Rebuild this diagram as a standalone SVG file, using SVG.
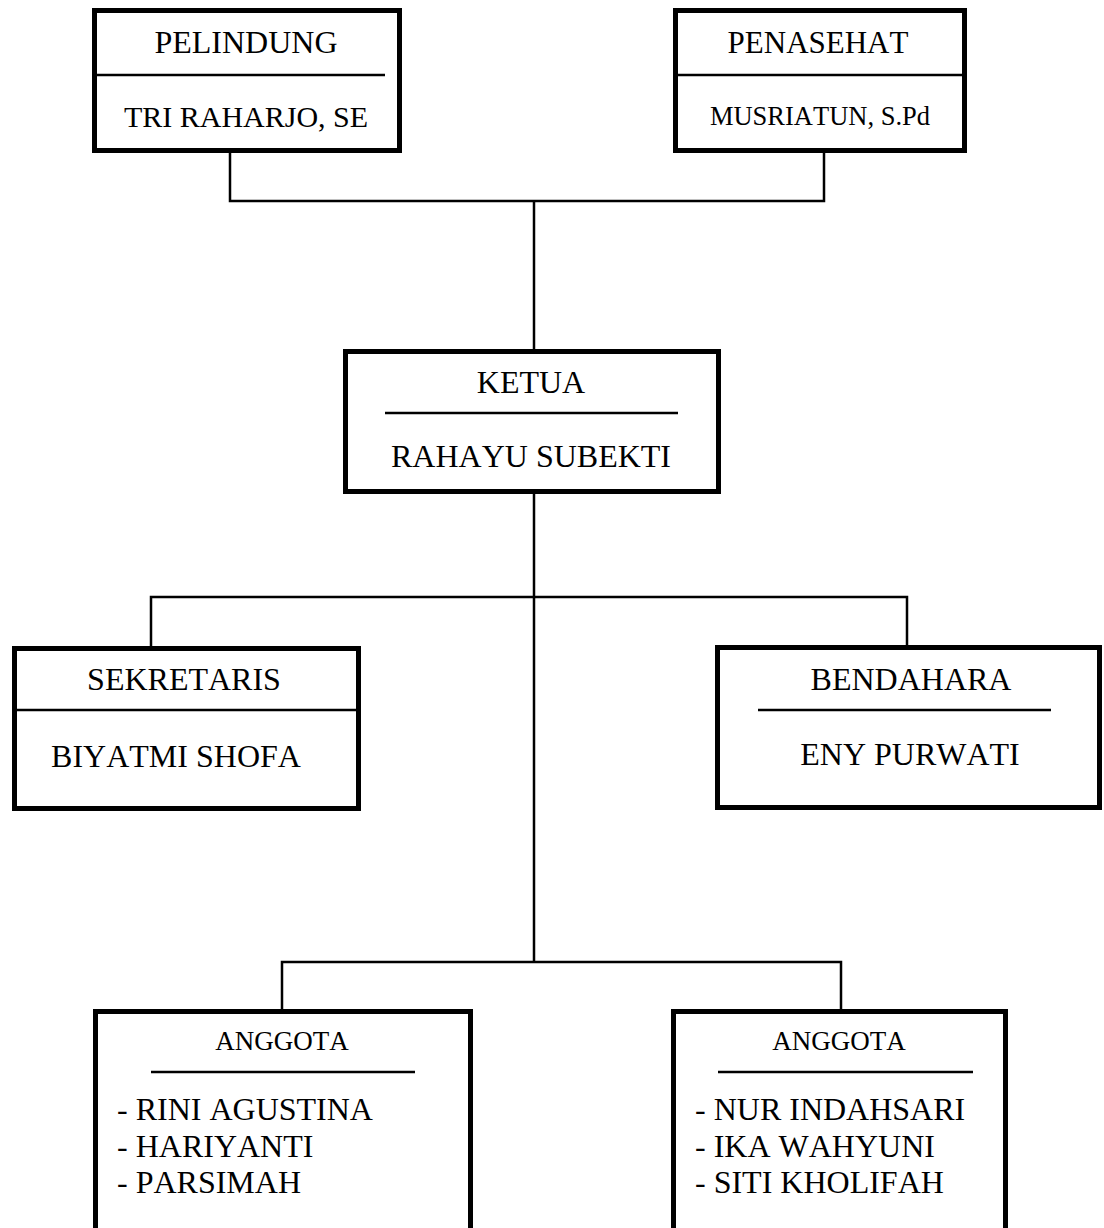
<svg xmlns="http://www.w3.org/2000/svg" width="1104" height="1228" viewBox="0 0 1104 1228">
<style>
.box{fill:#fff;stroke:#000;stroke-width:5}
.div{stroke:#000;stroke-width:2.5;fill:none}
.con{stroke:#000;stroke-width:2.5;fill:none}
text{font-family:"Liberation Serif","Times New Roman",serif;fill:#000;font-kerning:none}
.t{font-size:32px;text-anchor:middle}
.s{font-size:27px;text-anchor:middle}
.l{font-size:32px}
</style>
<rect width="1104" height="1228" fill="#fff"/>
<g id="connectors">
<polyline class="con" points="230,153 230,201 824,201 824,153"/>
<line class="con" x1="534" y1="201" x2="534" y2="349"/>
<line class="con" x1="534" y1="494" x2="534" y2="962"/>
<polyline class="con" points="151,646 151,597 907,597 907,645"/>
<polyline class="con" points="282,1009 282,962 841,962 841,1009"/>
</g>
<g id="pelindung">
<rect class="box" x="94.5" y="10.5" width="305" height="140"/>
<line class="div" x1="97" y1="75" x2="385" y2="75"/>
<text class="t" x="246" y="53">PELINDUNG</text>
<text class="t" x="246" y="127" style="font-size:30px">TRI RAHARJO, SE</text>
</g>
<g id="penasehat">
<rect class="box" x="675.5" y="10.5" width="289" height="140"/>
<line class="div" x1="676" y1="75" x2="965" y2="75"/>
<text class="t" x="818" y="53" style="font-size:31px">PENASEHAT</text>
<text class="t" x="820" y="125" style="font-size:26.5px">MUSRIATUN, S.Pd</text>
</g>
<g id="ketua">
<rect class="box" x="345.5" y="351.5" width="373" height="140"/>
<line class="div" x1="385" y1="413" x2="678" y2="413"/>
<text class="t" x="531" y="393">KETUA</text>
<text class="t" x="531" y="467">RAHAYU SUBEKTI</text>
</g>
<g id="sekretaris">
<rect class="box" x="14.5" y="648.5" width="344" height="160"/>
<line class="div" x1="15" y1="710" x2="358" y2="710"/>
<text class="t" x="184" y="690">SEKRETARIS</text>
<text class="t" x="176" y="767">BIYATMI SHOFA</text>
</g>
<g id="bendahara">
<rect class="box" x="717.5" y="647.5" width="382" height="160"/>
<line class="div" x1="758" y1="710" x2="1051" y2="710"/>
<text class="t" x="911" y="690">BENDAHARA</text>
<text class="t" x="910" y="765">ENY PURWATI</text>
</g>
<g id="anggota-1">
<rect class="box" x="95.5" y="1011.5" width="375" height="240"/>
<line class="div" x1="151" y1="1072" x2="415" y2="1072"/>
<text class="s" x="282" y="1050">ANGGOTA</text>
<text class="l" x="117" y="1120">- RINI AGUSTINA</text>
<text class="l" x="117" y="1157">- HARIYANTI</text>
<text class="l" x="117" y="1193">- PARSIMAH</text>
</g>
<g id="anggota-2">
<rect class="box" x="673.5" y="1011.5" width="332" height="240"/>
<line class="div" x1="718" y1="1072" x2="973" y2="1072"/>
<text class="s" x="839" y="1050">ANGGOTA</text>
<text class="l" x="695" y="1120">- NUR INDAHSARI</text>
<text class="l" x="695" y="1157">- IKA WAHYUNI</text>
<text class="l" x="695" y="1193">- SITI KHOLIFAH</text>
</g>
</svg>
